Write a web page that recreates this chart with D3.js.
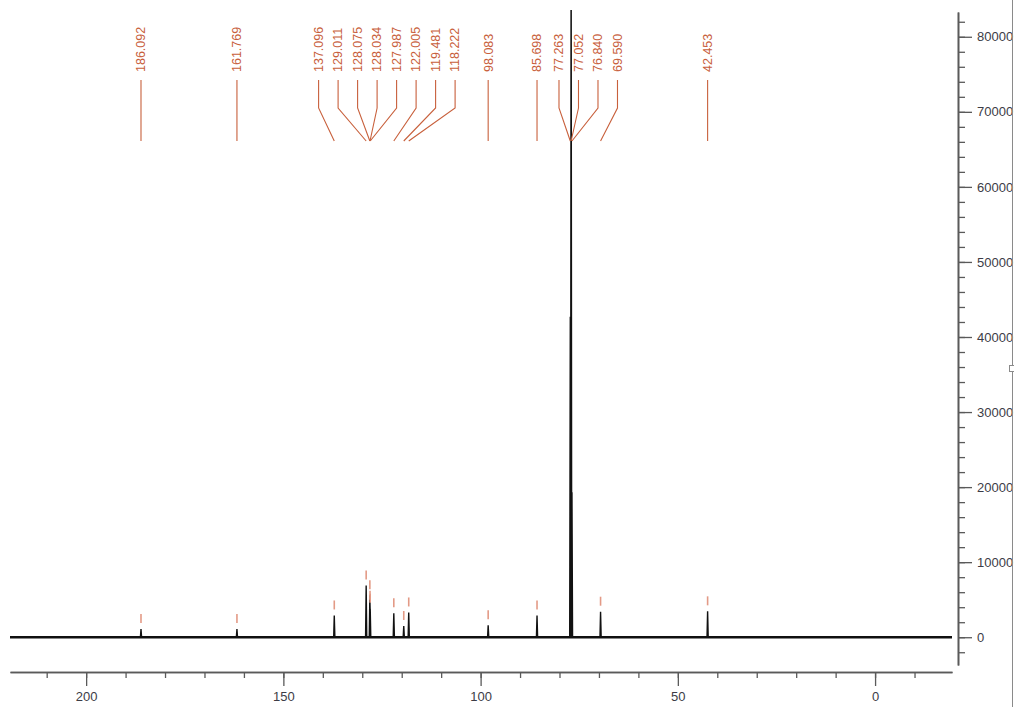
<!DOCTYPE html>
<html>
<head>
<meta charset="utf-8">
<script src="https://cdn.jsdelivr.net/npm/d3@7"></script>
<style>
  body { margin: 0; background: #fff; }
  svg { display: block; font-family: "Liberation Sans", Arial, sans-serif; }
</style>
</head>
<body>
<svg></svg>
<script>
// 13C NMR spectrum with peak picking labels
const SVG = d3.select('svg');
const SVG_WIDTH = 1014;
const SVG_HEIGHT = 707;

// Peak list (ppm) and peak heights
const peakPpm = [186.092, 161.769, 137.096, 129.011, 128.075, 128.034, 127.987,
                 122.005, 119.481, 118.222, 98.083, 85.698, 77.263, 77.052, 76.840,
                 69.590, 42.453];
const peakHeight = [1100, 1100, 2900, 6900, 5600, 4200, 3800,
                    3200, 1500, 3300, 1600, 2900, 42700, 95000, 19300,
                    3400, 3450];

// Axis ticks
const xMajorTicks = [200, 150, 100, 50, 0];
const xMinorTicks = d3.range(-10, 220, 10);
const yMajorTicks = d3.range(0, 80001, 10000);
const yMinorTicks = d3.range(-2000, 83000, 2000);

const LABEL_COLOR = '#c8603c';
const MARK_COLOR = '#e39a86';
const AXIS_COLOR = '#5a5a5a';
const TEXT_COLOR = '#3c3c46';

SVG.attr('width', SVG_WIDTH).attr('height', SVG_HEIGHT);

//Scales
var xScale = d3.scaleLinear().domain([219.3, -19.5]).range([10, 952]);
var yScale = d3.scaleLinear().domain([-3700, 83300]).range([665, 12]);

//Axes
var xMinor = d3.axisBottom(xScale).tickValues(xMinorTicks).tickSize(6).tickSizeOuter(0).tickFormat('');
var xMajor = d3.axisBottom(xScale).tickValues(xMajorTicks).tickSize(14).tickSizeOuter(0).tickPadding(6);
var yMinor = d3.axisRight(yScale).tickValues(yMinorTicks).tickSize(7).tickSizeOuter(0).tickFormat('');
var yMajor = d3.axisRight(yScale).tickValues(yMajorTicks).tickSize(14).tickSizeOuter(0).tickPadding(5).tickFormat(d3.format('d'));

function styleAxis(g) {
  g.selectAll('path').attr('stroke', AXIS_COLOR).attr('stroke-width', 1.6);
  g.selectAll('line').attr('stroke', AXIS_COLOR).attr('stroke-width', 1.3);
  g.selectAll('text').attr('fill', TEXT_COLOR).style('font-size', '13px');
}

SVG.append('g').attr('transform', 'translate(0, 672)').call(xMinor).call(styleAxis);
SVG.append('g').attr('transform', 'translate(0, 672)').call(xMajor).call(styleAxis);
SVG.append('g').attr('transform', 'translate(958, 0)').call(yMinor).call(styleAxis);
SVG.append('g').attr('transform', 'translate(958, 0)').call(yMajor).call(styleAxis);

//Spectrum
var peaks = peakPpm.map((p, i) => ({ppm: p, h: peakHeight[i]}))
                   .sort((a, b) => b.ppm - a.ppm);

SVG.append('defs').append('clipPath').attr('id', 'plot-clip')
   .append('rect').attr('x', 10).attr('y', 10).attr('width', 942).attr('height', 655);

var pts = [[xScale.domain()[0], 0]];
peaks.forEach(p => {
  pts.push([p.ppm + 0.15, 0], [p.ppm, p.h], [p.ppm - 0.15, 0]);
});
pts.push([xScale.domain()[1], 0]);

var line = d3.line().x(d => xScale(d[0])).y(d => yScale(d[1]));

var plot = SVG.append('g').attr('clip-path', 'url(#plot-clip)');

// baseline band (noise level)
plot.append('line')
    .attr('x1', xScale(xScale.domain()[0])).attr('x2', xScale(xScale.domain()[1]))
    .attr('y1', yScale(0)).attr('y2', yScale(0))
    .attr('stroke', '#111').attr('stroke-width', 2.6);

plot.append('path')
    .attr('d', line(pts))
    .attr('fill', 'none')
    .attr('stroke', '#111')
    .attr('stroke-width', 1.4);

//Peak markers just above each peak top (not for the solvent lines)
plot.selectAll('.mark')
    .data(peaks.filter(p => p.h < 15000))
    .enter()
    .append('line')
        .attr('x1', d => xScale(d.ppm)).attr('x2', d => xScale(d.ppm))
        .attr('y1', d => yScale(d.h) - 6).attr('y2', d => yScale(d.h) - 15)
        .attr('stroke', MARK_COLOR).attr('stroke-width', 1.6);

//Label layout: spread overlapping labels around their peaks
const GAP = 19.5;
function clusterCenter(items) {
  var c = d3.mean(items, d => xScale(d.ppm));
  return items.length > 1 ? c + GAP / 2 : c;
}
var clusters = [];
peaks.forEach(p => {
  clusters.push({items: [p], center: xScale(p.ppm)});
  while (clusters.length > 1) {
    var b = clusters[clusters.length - 1];
    var a = clusters[clusters.length - 2];
    var aEnd = a.center + (a.items.length - 1) * GAP / 2;
    var bStart = b.center - (b.items.length - 1) * GAP / 2;
    if (bStart - aEnd >= GAP) break;
    var items = a.items.concat(b.items);
    clusters.splice(-2, 2, {items: items, center: clusterCenter(items)});
  }
});
clusters.forEach(c => {
  var start = c.center - (c.items.length - 1) * GAP / 2;
  c.items.forEach((p, i) => { p.lx = start + i * GAP; });
});

var labels = SVG.append('g');
labels.selectAll('path')
      .data(peaks)
      .enter()
      .append('path')
          .attr('d', d => `M${d.lx},80 L${d.lx},108 L${xScale(d.ppm)},141`)
          .attr('fill', 'none')
          .attr('stroke', LABEL_COLOR)
          .attr('stroke-width', 1.1);

labels.selectAll('text')
      .data(peaks)
      .enter()
      .append('text')
          .attr('transform', d => `translate(${d.lx}, 72) rotate(-90)`)
          .attr('dy', '0.35em')
          .attr('fill', LABEL_COLOR)
          .style('font-size', '12.5px')
          .text(d => d.ppm.toFixed(3));

//Window frame on the right
SVG.append('line').attr('x1', 1012.5).attr('x2', 1012.5).attr('y1', 0).attr('y2', SVG_HEIGHT)
   .attr('stroke', '#8a8a8a').attr('stroke-width', 1);
SVG.append('rect').attr('x', 1009.5).attr('y', 365.5).attr('width', 5).attr('height', 6)
   .attr('fill', '#fff').attr('stroke', '#8a8a8a');
</script>
</body>
</html>
